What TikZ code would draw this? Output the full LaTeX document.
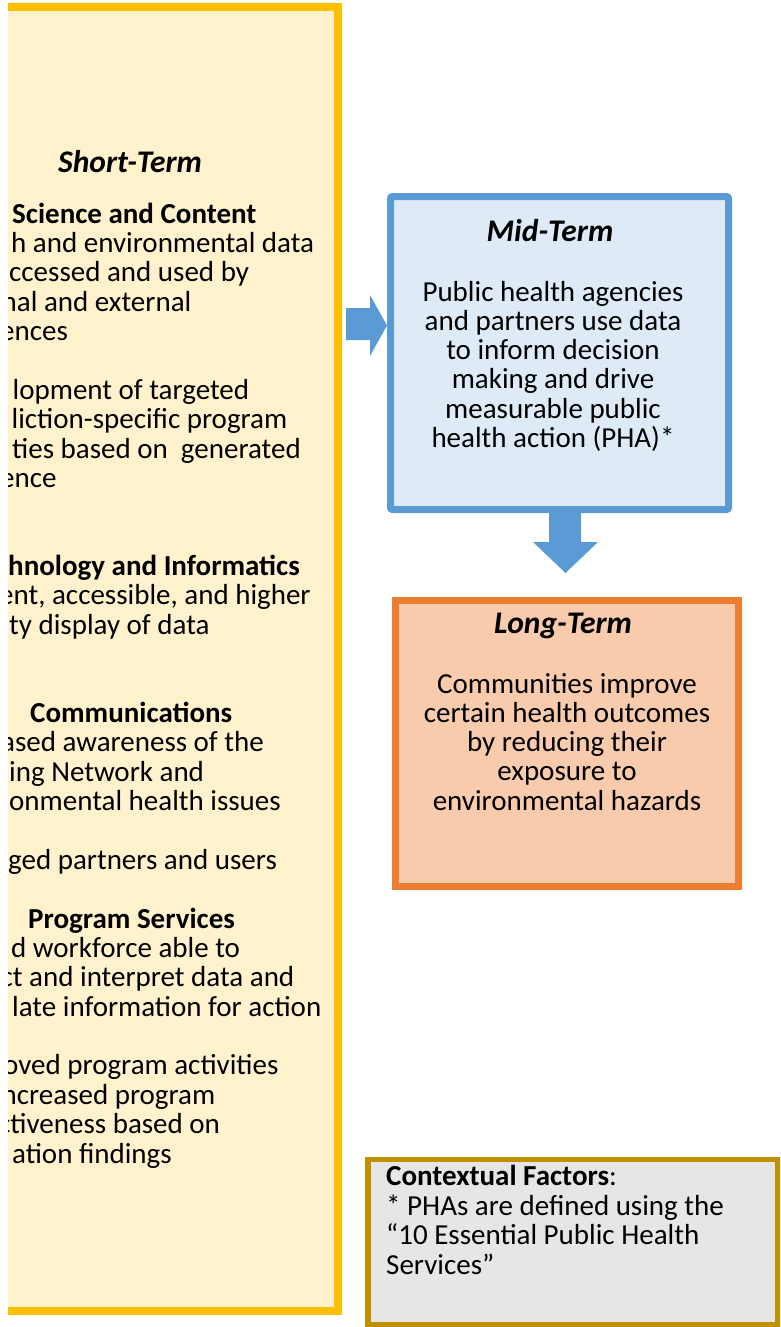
\documentclass[tikz,border=0pt]{standalone}
\usepackage{fontspec}
\setmainfont{Carlito}
\definecolor{yfill}{HTML}{FFF2CC}
\definecolor{yline}{HTML}{FFC000}
\definecolor{bfill}{HTML}{DEEBF7}
\definecolor{bline}{HTML}{5B9BD5}
\definecolor{ofill}{HTML}{F8CBAD}
\definecolor{oline}{HTML}{ED7D31}
\definecolor{gfill}{HTML}{E7E6E6}
\definecolor{gline}{HTML}{BF9000}
\begin{document}
\begin{tikzpicture}[x=1pt,y=-1pt,
  body/.style={inner sep=0pt, font=\fontsize{29}{29.3}\selectfont},
  head/.style={inner sep=0pt, font=\fontsize{29}{29.3}\selectfont\bfseries},
  ttl/.style={inner sep=0pt, font=\fontsize{31.5}{32}\selectfont\bfseries\itshape},
  boxbase/.style={inner sep=0pt, rectangle},
  arrowfill/.style={fill=bline}]
\useasboundingbox (0,0) rectangle (780,1327);
\clip (0,0) rectangle (780,1327);

% ---------- Short-term box (clipped at left) ----------
\begin{scope}
\clip (8,0) rectangle (780,1327);
\node[boxbase, draw=yline, fill=yfill, line width=8pt,
      minimum width=418pt, minimum height=1304pt] (short) at (129,659) {};
\node[ttl, anchor=base west] (shortttl) at (58,172) {Short-Term};
\foreach \k/\x/\t [count=\i] in {0/12/Science and Content, 12/8/hnology and Informatics,
    17/30/Communications, 24/28/Program Services}
  \node[head, anchor=base west] (sh\i) at (\x, 223+29.375*\k) {\t};
\foreach \k/\x/\t [count=\i] in {
    1/11/h and environmental data,
    2/9/ccessed and used by,
    3/1.5/nal and external,
    4/0/ences,
    6/12.5/lopment of targeted,
    7/11.5/liction-specific program,
    8/12/ties based on\ \ generated,
    9/0/ence,
    13/-1/{ent, accessible, and higher},
    14/9/ty display of data,
    18/1/ased awareness of the,
    19/9/ing Network and,
    20/9/onmental health issues,
    22/8/ged partners and users,
    25/11/d workforce able to,
    26/0.5/ct and interpret data and,
    27/12/late information for action,
    29/3/oved program activities,
    30/1.5/ncreased program,
    31/-2/ctiveness based on,
    32/12/ation findings}
  \node[body, anchor=base west] (sb\i) at (\x, 223+29.375*\k) {\t};
\end{scope}

% ---------- Mid-term box ----------
\node[boxbase, draw=bline, fill=bfill, line width=7pt, rounded corners=2pt,
      minimum width=338pt, minimum height=313pt] (mid) at (559.5,353) {};
\node[ttl, anchor=base] (midttl) at (550,241) {Mid-Term};
\foreach \t [count=\i] in {Public health agencies, and partners use data,
    to inform decision, making and drive, measurable public, health action (PHA)*}
  \node[body, anchor=base] (mb\i) at (553, 301+29.3*\i-29.3) {\t};

% ---------- Long-term box ----------
\node[boxbase, draw=oline, fill=ofill, line width=6.5pt,
      minimum width=343pt, minimum height=286pt] (long) at (567,743.5) {};
\node[ttl, anchor=base] (longttl) at (563,633) {Long-Term};
\foreach \t [count=\i] in {Communities improve, certain health outcomes,
    by reducing their, exposure to, environmental hazards}
  \node[body, anchor=base] (lb\i) at (567, 693+29.3*\i-29.3) {\t};

% ---------- Contextual factors box ----------
\node[boxbase, draw=gline, fill=gfill, line width=5.5pt,
      minimum width=410.25pt, minimum height=164.75pt] (ctx) at (572.9,1242.1) {};
\node[body, anchor=base west] (cx1) at (386,1185.5) {\textbf{Contextual Factors}:};
\node[body, anchor=base west] (cx2) at (386,1215) {* PHAs are defined using the};
\node[body, anchor=base west] (cx3) at (386,1244.5) {“10 Essential Public Health};
\node[body, anchor=base west] (cx4) at (386,1274) {Services”};

% ---------- Block arrows ----------
\fill[arrowfill] ([xshift=4pt]short.east |- 0,308) -- (370,308) -- (370,295)
   -- (mid.west |- 0,325.5) -- (370,356) -- (370,340)
   -- ([xshift=4pt]short.east |- 0,340) -- cycle;
\fill[arrowfill] (mid.south -| 549,0) -- (549,542) -- (533,542)
   -- (565.5,573) -- (598,542) -- (581,542) -- (mid.south -| 581,0) -- cycle;
\end{tikzpicture}
\end{document}
